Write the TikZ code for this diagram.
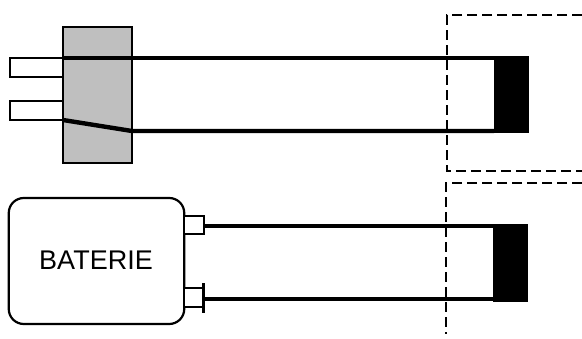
\documentclass[tikz,border=0pt]{standalone}
\usepackage{fontspec}
\setmainfont{Liberation Sans}
\tikzset{
    part/.style={rectangle, draw=black, line width=2.2pt, inner sep=0pt, outer sep=0pt},
    wire/.style={line width=4.4pt},
    border/.style={line width=2.4pt, dash pattern=on 10pt off 5pt}
}

\begin{document}
\begin{tikzpicture}[x=1pt, y=-1pt]
    \useasboundingbox (0, 0) rectangle (582, 338);
    % upper circuit
    \node[part, fill=gray!50, minimum width=69pt, minimum height=136pt] (plug) at (97.5, 95) {};
    \node[part, fill=white, minimum width=53pt, minimum height=19pt] (prong1) at (36.5, 67.5) {};
    \node[part, fill=white, minimum width=53pt, minimum height=19pt] (prong2) at (36.5, 110.5) {};
    \node[fill=black, inner sep=0pt, outer sep=0pt, minimum width=35pt, minimum height=77pt] (load1) at (511.5, 94.5) {};
    \coordinate (bend) at (132, 131);
    \draw[wire] (prong1.north east) -- (prong1.north east -| load1.west);
    \draw[wire] (prong2.south east) -- (bend) -- (bend -| load1.west);
    % lower circuit
    \node[part, rounded corners=15pt, fill=white, minimum width=175.5pt, minimum height=126pt] (battery) at (96.5, 261) {};
    \node[font=\fontsize{27pt}{31pt}\selectfont] (batterylabel) at (96, 260) {BATERIE};
    \node[part, fill=white, minimum width=20pt, minimum height=18.5pt] (term1) at (194, 225) {};
    \node[part, fill=white, minimum width=20pt, minimum height=18.5pt] (term2) at (194, 297.5) {};
    \node[fill=black, inner sep=0pt, outer sep=0pt, minimum width=35pt, minimum height=78pt] (load2) at (510.5, 263) {};
    \coordinate (bar1) at (203.5, 283);
    \coordinate (bar2) at (203.5, 313);
    \coordinate (lead1) at (204, 226);
    \coordinate (lead2) at (204, 299);
    \draw[wire] (lead1) -- (lead1 -| load2.west);
    \draw[wire] (lead2) -- (lead2 -| load2.west);
    \draw[line width=3.5pt] (bar1) -- (bar2);
    % dashed borders
    \coordinate (a1) at (582, 15);
    \coordinate (a2) at (447, 15);
    \coordinate (a3) at (447, 171);
    \coordinate (a4) at (582, 171);
    \coordinate (b1) at (582, 183);
    \coordinate (b2) at (446, 183);
    \coordinate (b3) at (446, 334);
    \draw[border] (a1) -- (a2) -- (a3) -- (a4);
    \draw[border] (b1) -- (b2) -- (b3);
\end{tikzpicture}
\end{document}
